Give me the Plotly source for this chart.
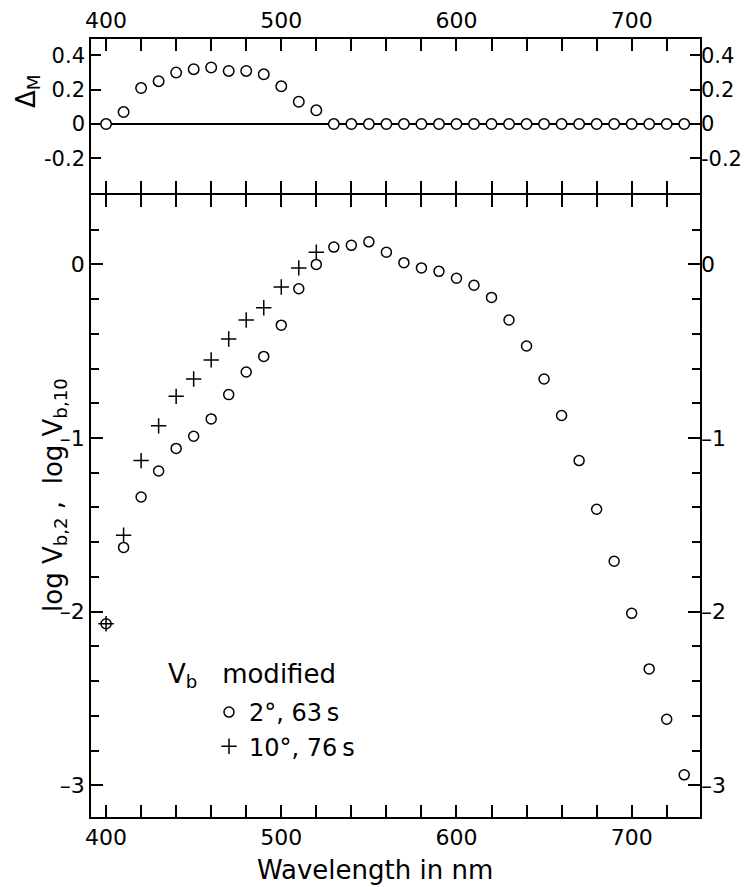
import plotly.graph_objects as go

# Wavelengths (nm) for the 2-degree data and for the difference curve
wavelength = [400, 410, 420, 430, 440, 450, 460, 470, 480, 490,
              500, 510, 520, 530, 540, 550, 560, 570, 580, 590,
              600, 610, 620, 630, 640, 650, 660, 670, 680, 690,
              700, 710, 720, 730]

# log V_b,2 (2 deg field, 63 subjects)
log_vb2 = [-2.07, -1.63, -1.34, -1.19, -1.06, -0.99, -0.89, -0.75, -0.62, -0.53,
           -0.35, -0.14, 0.00, 0.10, 0.11, 0.13, 0.07, 0.01, -0.02, -0.04,
           -0.08, -0.12, -0.19, -0.32, -0.47, -0.66, -0.87, -1.13, -1.41, -1.71,
           -2.01, -2.33, -2.62, -2.94]

# log V_b,10 (10 deg field, 76 subjects), short-wavelength range only
wavelength_10 = [400, 410, 420, 430, 440, 450, 460, 470, 480, 490, 500, 510, 520]
log_vb10 = [-2.07, -1.56, -1.13, -0.93, -0.76, -0.66, -0.55, -0.43, -0.32, -0.25,
            -0.13, -0.02, 0.07]

# Delta_M
delta_m = [0.00, 0.07, 0.21, 0.25, 0.30, 0.32, 0.33, 0.31, 0.31, 0.29,
           0.22, 0.13, 0.08, 0.00, 0.00, 0.00, 0.00, 0.00, 0.00, 0.00,
           0.00, 0.00, 0.00, 0.00, 0.00, 0.00, 0.00, 0.00, 0.00, 0.00,
           0.00, 0.00, 0.00, 0.00]

x_ticks = [400, 500, 600, 700]
top_y_ticks = [-0.2, 0, 0.2, 0.4]
top_y_text = ["-0.2", "0", "0.2", "0.4"]
bot_y_ticks = [-3, -2, -1, 0]
bot_y_text = ["\u20133", "\u20132", "\u20131", "0"]

FONT = "DejaVu Sans"
X_RANGE = [391.4, 739.0]
TOP_RANGE = [-0.403, 0.496]
BOT_RANGE = [-3.183, 0.401]

# plot area in pixels (used to place the free text)
L, R, T, B = 91, 56, 39, 70
PW, PH = 756 - L - R, 887 - T - B
SPLIT = 1 - 155 / PH
GAP = 0.8 / PH


def px(xp):
    return (xp - L) / PW


def py(yp):
    return 1 - (yp - T) / PH


fig = go.Figure()

# top panel: Delta_M
fig.add_trace(go.Scatter(
    x=wavelength, y=delta_m, mode="markers", xaxis="x", yaxis="y",
    marker=dict(symbol="circle", size=10.5, color="white",
                line=dict(color="black", width=1.5)),
    showlegend=False, hoverinfo="x+y"))

# bottom panel: 2 deg circles, 10 deg crosses
fig.add_trace(go.Scatter(
    x=wavelength, y=log_vb2, mode="markers", xaxis="x2", yaxis="y2",
    name="2°, 63\u2009s", legendgroup="a",
    marker=dict(symbol="circle", size=10, color="rgba(255,255,255,0)",
                line=dict(color="black", width=1.5))))
fig.add_trace(go.Scatter(
    x=wavelength_10, y=log_vb10, mode="markers", xaxis="x2", yaxis="y2",
    name="10°, 76\u2009s", legendgroup="b",
    marker=dict(symbol="cross-thin", size=11, color="black",
                line=dict(color="black", width=1.5))))

# empty traces so the right-hand label axes are drawn
fig.add_trace(go.Scatter(x=[], y=[], xaxis="x", yaxis="y3", showlegend=False, hoverinfo="skip"))
fig.add_trace(go.Scatter(x=[], y=[], xaxis="x2", yaxis="y4", showlegend=False, hoverinfo="skip"))

axis_common = dict(showline=True, linecolor="black", linewidth=1.6,
                   showgrid=False, ticks="inside", tickcolor="black",
                   tickwidth=1.5, mirror="allticks", automargin=False,
                   tickfont=dict(family=FONT, size=22, color="black"))

fig.update_layout(
    width=756, height=887,
    margin=dict(l=L, r=R, t=T, b=B, autoexpand=False),
    paper_bgcolor="white", plot_bgcolor="white",
    font=dict(family=FONT, color="black"),
    xaxis=dict(axis_common, domain=[0, 1], anchor="y", side="top",
               range=X_RANGE, tickvals=x_ticks, ticklen=12, zeroline=False,
               minor=dict(dtick=20, tick0=400, ticks="inside", ticklen=8,
                          tickcolor="black", tickwidth=1.5)),
    yaxis=dict(axis_common, domain=[SPLIT + GAP, 1], anchor="x", range=TOP_RANGE,
               tickvals=top_y_ticks, ticktext=top_y_text, ticklen=10,
               zeroline=True, zerolinecolor="black", zerolinewidth=1.5,
               tickfont=dict(family=FONT, size=21, color="black")),
    yaxis3=dict(overlaying="y", side="right", range=TOP_RANGE,
                tickvals=top_y_ticks, ticktext=top_y_text, ticks="",
                showline=False, showgrid=False, zeroline=False, automargin=False,
                tickfont=dict(family=FONT, size=21, color="black")),
    xaxis2=dict(axis_common, domain=[0, 1], anchor="y2", side="bottom",
                range=X_RANGE, tickvals=x_ticks, ticklen=12, zeroline=False,
                minor=dict(dtick=20, tick0=400, ticks="inside", ticklen=8,
                           tickcolor="black", tickwidth=1.5)),
    yaxis2=dict(axis_common, domain=[0, SPLIT - GAP], anchor="x2", range=BOT_RANGE,
                tickvals=bot_y_ticks, ticktext=bot_y_text, ticklen=12,
                zeroline=False,
                minor=dict(dtick=0.2, tick0=0, ticks="inside", ticklen=8,
                           tickcolor="black", tickwidth=1.5),
                tickfont=dict(family=FONT, size=22, color="black")),
    yaxis4=dict(overlaying="y2", side="right", range=BOT_RANGE,
                tickvals=bot_y_ticks, ticktext=bot_y_text, ticks="",
                showline=False, showgrid=False, zeroline=False, automargin=False,
                tickfont=dict(family=FONT, size=22, color="black")),
    legend=dict(x=px(209), xanchor="left",
                y=py(690), yanchor="top",
                bgcolor="rgba(0,0,0,0)", borderwidth=0,
                tracegroupgap=0,
                font=dict(family=FONT, size=24, color="black")),
    annotations=[
        dict(text="Wavelength in nm", xref="paper", yref="paper",
             x=px(375), y=py(870),
             xanchor="center", yanchor="middle", showarrow=False,
             font=dict(family=FONT, size=26, color="black")),
        dict(text="log V<sub>b,2</sub> ,  log V<sub>b,10</sub>",
             xref="paper", yref="paper", textangle=-90,
             x=px(54), y=py(495),
             xanchor="center", yanchor="middle", showarrow=False,
             font=dict(family=FONT, size=26, color="black")),
        dict(text="\u0394<sub>M</sub>", xref="paper", yref="paper",
             textangle=-90, x=px(27), y=py(91),
             xanchor="center", yanchor="middle", showarrow=False,
             font=dict(family=FONT, size=26, color="black")),
        dict(text="V<sub>b</sub>\u00a0\u00a0\u00a0modified", xref="paper", yref="paper",
             x=px(166), y=py(675),
             xanchor="left", yanchor="middle", showarrow=False,
             font=dict(family=FONT, size=26, color="black")),
    ],
)

fig.write_html("out.html")
